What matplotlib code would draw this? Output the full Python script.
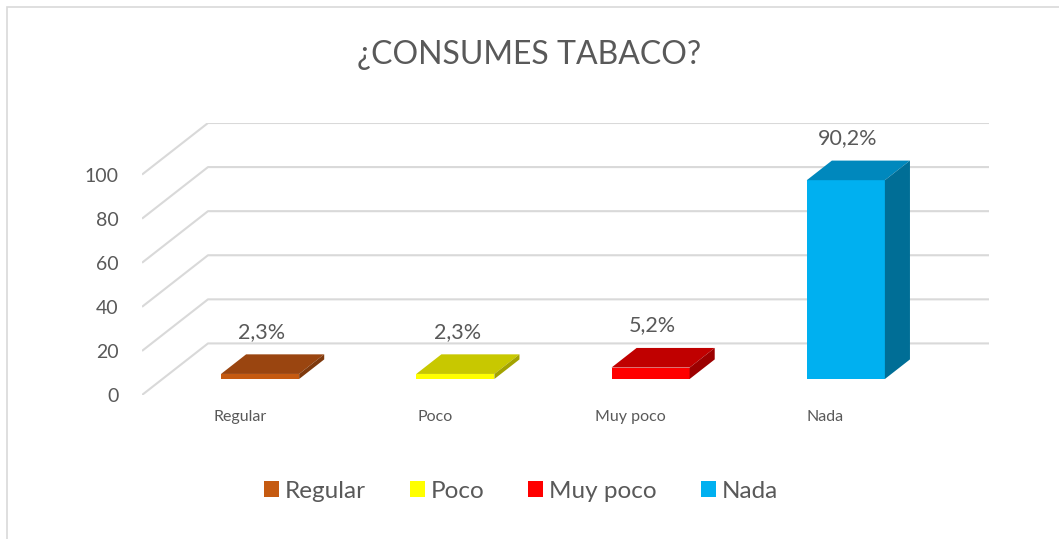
import matplotlib.pyplot as plt
from matplotlib.patches import Polygon, Rectangle, Patch

categories = ['Regular', 'Poco', 'Muy poco', 'Nada']
values = [2.3, 2.3, 5.2, 90.2]
value_labels = ['2,3%', '2,3%', '5,2%', '90,2%']
front_colors = ['#C55A11', '#FFFF00', '#FF0000', '#00B0F0']
top_colors = ['#9A4510', '#C8C800', '#C00000', '#0088BD']
side_colors = ['#7E390D', '#A3A300', '#9C0000', '#006E96']
y_ticks = [0, 20, 40, 60, 80, 100]

plt.rcParams['font.family'] = ['Lato', 'DejaVu Sans']
TXT = '#595959'
GRID = '#D9D9D9'

W, H = 1059, 539
fig = plt.figure(figsize=(W / 100, H / 100), dpi=100)

# depth of the 3d box in data units (x in categories, y in value units)
ddx, ddy = 0.338, 23.4
# bars sit in the middle of the depth
f0, f1 = 0.31, 0.69
half = 0.2

ax = fig.add_axes([142 / W, (H - 395) / H, (989 - 142) / W, (395 - 123) / H])
ax.set_xlim(-0.5, 3.5 + ddx)
ax.set_ylim(0, 100 + ddy)
for s in ax.spines.values():
    s.set_visible(False)

# side wall diagonals + back wall gridlines
for v in y_ticks:
    ax.plot([-0.5, -0.5 + ddx, 3.5 + ddx], [v, v + ddy, v + ddy],
            color=GRID, lw=1.5, zorder=1, solid_capstyle='butt')

ax.set_yticks(y_ticks)
ax.set_yticklabels([str(v) for v in y_ticks], color=TXT, fontsize=14)
ax.tick_params(axis='y', length=0, pad=17)
ax.set_xticks(range(len(categories)))
ax.set_xticklabels(categories, color=TXT, fontsize=11.5)
ax.tick_params(axis='x', length=0, pad=11)

for i, v in enumerate(values):
    x0 = i - half + f0 * ddx
    x1 = i + half + f0 * ddx
    y0 = f0 * ddy
    y1 = y0 + v
    dx = (f1 - f0) * ddx
    dy = (f1 - f0) * ddy
    front = Polygon([(x0, y0), (x1, y0), (x1, y1), (x0, y1)],
                    closed=True, fc=front_colors[i], ec='none', zorder=3)
    top = Polygon([(x0, y1), (x1, y1), (x1 + dx, y1 + dy), (x0 + dx, y1 + dy)],
                  closed=True, fc=top_colors[i], ec='none', zorder=3)
    side = Polygon([(x1, y0), (x1 + dx, y0 + dy), (x1 + dx, y1 + dy), (x1, y1)],
                   closed=True, fc=side_colors[i], ec='none', zorder=3)
    for p in (front, top, side):
        ax.add_patch(p)
    ax.annotate(value_labels[i], (i + f0 * ddx + 0.01, y1 + dy), xytext=(0, 9),
                textcoords='offset points', ha='center', va='bottom',
                color=TXT, fontsize=15.5, zorder=4)

fig.text(529 / W, 1 - 55 / H, '¿CONSUMES TABACO?', ha='center', va='center',
         color=TXT, fontsize=23)

handles = [Patch(fc=c, ec='none') for c in front_colors]
fig.legend(handles, categories, loc='center', bbox_to_anchor=(521 / W, 1 - 491 / H),
           ncol=4, frameon=False, fontsize=17.5, labelcolor=TXT,
           handlelength=0.62, handleheight=0.62, handletextpad=0.25,
           columnspacing=1.8)

# chart area border
fig.add_artist(Rectangle((7 / W, -0.1), 1.2, 1 - 7 / H + 0.1,
                         transform=fig.transFigure, fill=False,
                         ec=GRID, lw=1.2))

fig.savefig('out.png', dpi=100, facecolor='white')
